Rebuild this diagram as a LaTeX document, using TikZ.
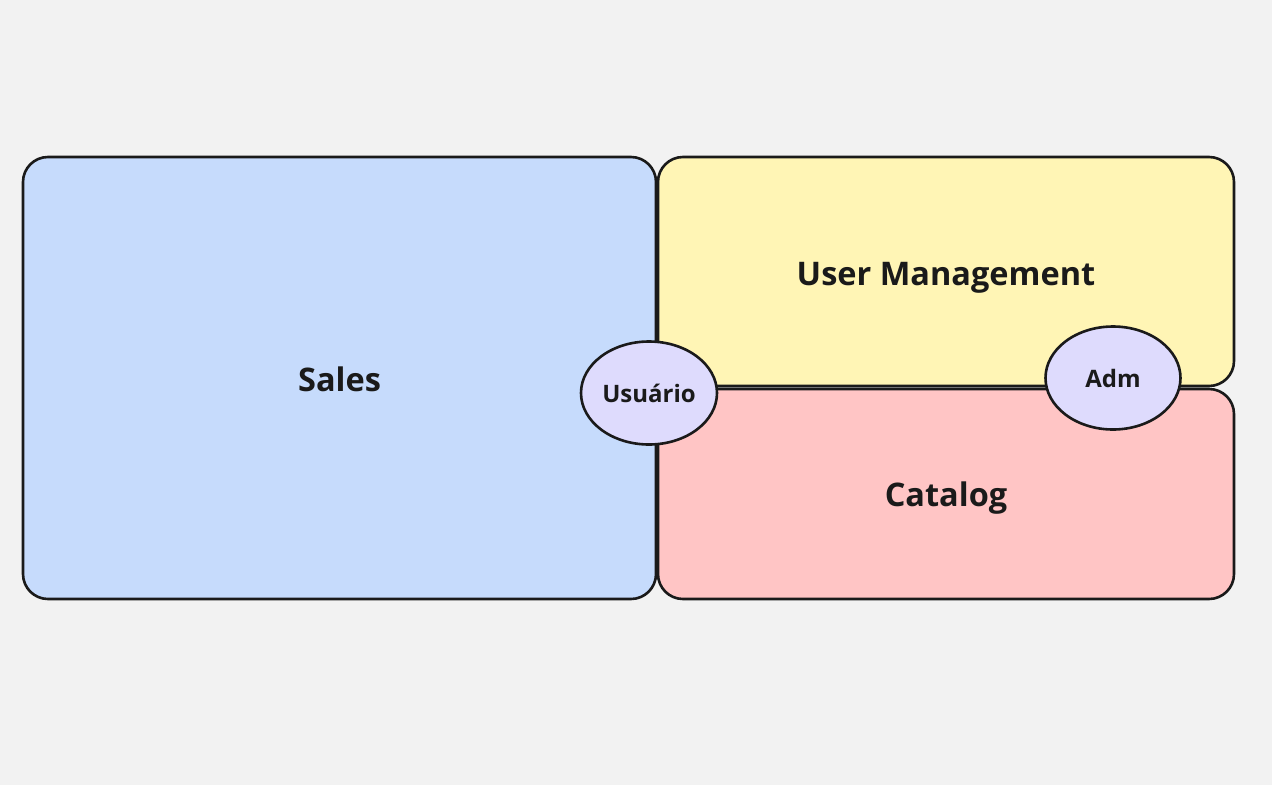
\documentclass[tikz,border=0pt]{standalone}
\usepackage{fontspec}
\setmainfont{Open Sans}
\usetikzlibrary{shapes.geometric}
\definecolor{bg}{HTML}{F2F2F2}
\definecolor{salesfill}{HTML}{C6DBFC}
\definecolor{userfill}{HTML}{FFF5B5}
\definecolor{catfill}{HTML}{FFC5C5}
\definecolor{ellfill}{HTML}{DEDBFD}
\definecolor{ink}{HTML}{1A1A1A}
\tikzset{
  area/.style={draw=ink, line width=2.6pt, rounded corners=25pt},
  areatext/.style={text=ink, font=\fontsize{32.5}{38}\selectfont\bfseries},
  actor/.style={ellipse, draw=ink, line width=2.6pt, fill=ellfill, inner sep=0pt,
    text=ink, font=\fontsize{24}{28}\selectfont\bfseries},
}
\begin{document}
\begin{tikzpicture}[x=1pt,y=-1pt]
\useasboundingbox (0,0) rectangle (1272,785);
\fill[bg] (0,0) rectangle (1272,785);
\draw[area, fill=salesfill] (23,157) rectangle (656,599);
\draw[area, fill=userfill] (658,157) rectangle (1234,386);
\draw[area, fill=catfill] (658,389) rectangle (1234,599);
\node[areatext] (sales) at (339.5,379) {Sales};
\node[areatext] (user) at (946,278) {User Management};
\node[areatext] (catalog) at (946,498) {Catalog};
\node[actor, minimum width=136pt, minimum height=103pt] (usuario) at (649,393) {Usuário};
\node[actor, minimum width=135pt, minimum height=103pt] (adm) at (1113,378) {Adm};
\end{tikzpicture}
\end{document}
